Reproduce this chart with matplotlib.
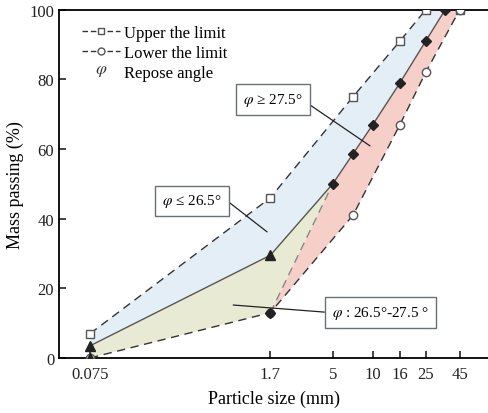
import matplotlib
matplotlib.use("Agg")
import matplotlib.pyplot as plt
from matplotlib.lines import Line2D

plt.rcParams['font.family'] = ['Liberation Serif', 'DejaVu Serif']
plt.rcParams['mathtext.fontset'] = 'stix'

# grading envelope
upper_x = [0.075, 1.7, 7.1, 16, 25, 45]
upper_y = [7, 46, 75, 91, 100, 100]
lower_x = [0.075, 1.7, 7.1, 16, 25, 45]
lower_y = [0, 13, 41, 67, 82, 100]

# repose angle boundary curve
tri_x = [0.075, 1.7]
tri_y = [3.5, 29.5]
dia_x = [5, 7.1, 10, 16, 25, 35]
dia_y = [50, 58.6, 67, 79, 91, 100]
mid_x = [1.7, 5]
mid_y = [13, 50]

ticks = [0.075, 1.7, 5, 10, 16, 25, 45]
tick_labels = ['0.075', '1.7', '5', '10', '16', '25', '45']

fig = plt.figure(figsize=(4.88, 4.14), dpi=100)
ax = fig.add_axes([0.121, 0.133, 0.879, 0.841])
ax.set_xscale('log')

curve_x = tri_x + dia_x
curve_y = tri_y + dia_y

# fills
ax.fill(upper_x[:-1] + curve_x[::-1], upper_y[:-1] + curve_y[::-1],
        color='#e4eef6', lw=0, zorder=1)
ax.fill(tri_x + [5, 1.7, 0.075], tri_y + [50, 13, 0],
        color='#e9ead4', lw=0, zorder=1)
ax.fill(mid_x + dia_x + lower_x[:0:-1], mid_y + dia_y + lower_y[:0:-1],
        color='#f6cfc8', lw=0, zorder=1)

# lines
ax.plot(upper_x, upper_y, ls=(0, (6, 4)), color='#333333', lw=1,
        marker='s', mfc='white', mec='#555555', ms=6, zorder=3)
ax.plot(lower_x, lower_y, ls=(0, (6, 4)), color='#333333', lw=1,
        marker='o', mfc='white', mec='#555555', ms=6, zorder=3)
ax.plot(mid_x, mid_y, ls=(0, (6, 4)), color='#888888', lw=1, zorder=2)
ax.plot(curve_x, curve_y, color='#555555', lw=1, zorder=3)
ax.plot(tri_x, tri_y, ls='none', marker='^', color='#222222', ms=7, zorder=4)
ax.plot([0.075], [0], ls='none', marker='^', color='#222222', ms=7, zorder=4)
ax.plot(dia_x, dia_y, ls='none', marker='D', color='#222222', ms=5.5, zorder=4)
ax.plot([1.7], [13], ls='none', marker='D', color='#222222', ms=5.5, zorder=4)

ax.set_xlim(0.0438, 73.5)
ax.set_ylim(0, 100)
ax.set_xticks(ticks)
ax.set_xticklabels(tick_labels)
ax.minorticks_off()
ax.set_yticks([0, 20, 40, 60, 80, 100])
ax.tick_params(direction='in', length=5, width=1.2, labelsize=12, colors='#222222')
ax.tick_params(axis='x', pad=6)
for s in ['left', 'bottom', 'top']:
    ax.spines[s].set_linewidth(1.3)
ax.spines['right'].set_visible(False)

ax.set_xlabel('Particle size (mm)', fontsize=13, labelpad=5)
ax.set_ylabel('Mass passing (%)', fontsize=13, labelpad=4)

# annotations
box = dict(boxstyle='square,pad=0.45', fc='white', ec='#6a7078', lw=1)
arr = dict(arrowstyle='-', color='#222222', lw=0.9, shrinkA=0, shrinkB=0)
ax.annotate(r'$\varphi$ ≥ 27.5°', xy=(0.725, 0.609), xytext=(0.499, 0.743),
            xycoords='axes fraction', textcoords='axes fraction',
            ha='center', va='center', fontsize=11, bbox=box,
            arrowprops=dict(arr, relpos=(1, 0.45)), zorder=5)
ax.annotate(r'$\varphi$ ≤ 26.5°', xy=(0.485, 0.362), xytext=(0.310, 0.451),
            xycoords='axes fraction', textcoords='axes fraction',
            ha='center', va='center', fontsize=11, bbox=box,
            arrowprops=dict(arr, relpos=(1, 0.75)), zorder=5)
ax.annotate(r'$\varphi$ : 26.5°-27.5 °', xy=(0.406, 0.152), xytext=(0.749, 0.130),
            xycoords='axes fraction', textcoords='axes fraction',
            ha='center', va='center', fontsize=11, bbox=box,
            arrowprops=dict(arr, relpos=(0, 0.5)), zorder=5)

handles = [
    Line2D([], [], ls=(0, (4, 2)), color='#333333', lw=1, marker='s',
           mfc='white', mec='#555555', ms=5),
    Line2D([], [], ls=(0, (4, 2)), color='#333333', lw=1, marker='o',
           mfc='white', mec='#555555', ms=5),
    Line2D([], [], ls='none', marker=r'$\varphi$', color='#333333',
           mew=0, ms=8),
]
ax.legend(handles, ['Upper the limit', 'Lower the limit', 'Repose angle'],
          loc='upper left', bbox_to_anchor=(0.03, 0.985), frameon=False,
          fontsize=12, handlelength=2.3, handletextpad=0.2,
          labelspacing=0.25, borderaxespad=0.2)

fig.savefig('out.png', dpi=100)
